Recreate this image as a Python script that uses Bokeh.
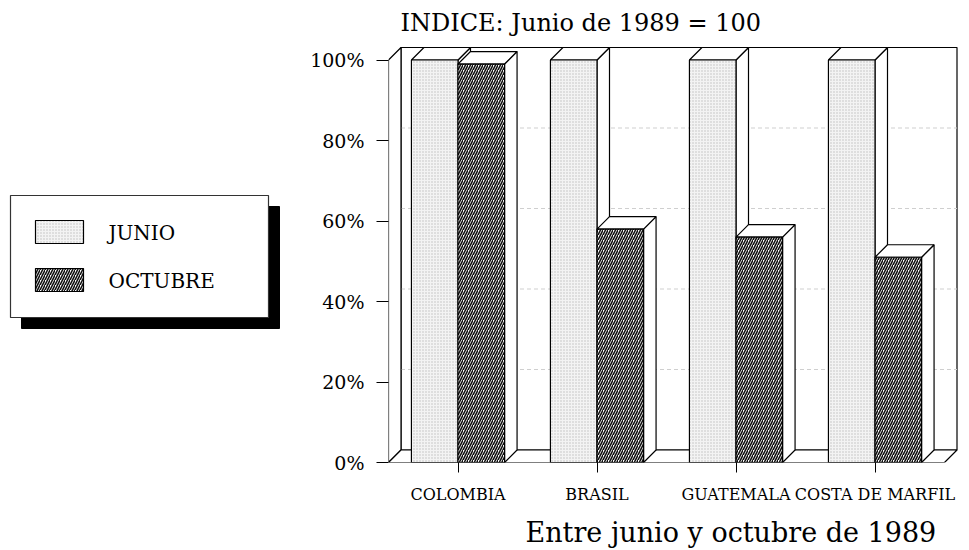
from bokeh.plotting import figure
from bokeh.models import Range1d, FixedTicker, AllLabels, Title
from bokeh.layouts import row
from bokeh.embed import file_html
from bokeh.resources import INLINE
from bokeh.core.properties import value

# ---------------- data ----------------
categories = ["COLOMBIA", "BRASIL", "GUATEMALA", "COSTA DE MARFIL"]
series_names = ["JUNIO", "OCTUBRE"]
junio = [100, 100, 100, 100]
octubre = [99, 58, 56, 51]
y_ticks = [0, 20, 40, 60, 80, 100]
y_tick_labels = ["0%", "20%", "40%", "60%", "80%", "100%"]
title_text = "INDICE: Junio de 1989 = 100"
subtitle_text = "Entre junio y octubre de 1989"

# ---------------- geometry / style ----------------
PX_PER_CAT = 139.0
PX_PER_PCT = 4.025
FRAME_W = 572
FRAME_H = 422
TOP_B = 40
BOT_B = 88
LEG_W = 298
DEPTH_PX = 12.5
BAR_W = 0.335
DX = DEPTH_PX / PX_PER_CAT
DY = DEPTH_PX / PX_PER_PCT
X0 = -0.5
X1 = len(categories) - 0.5
YMAX = 100
SERIF = "DejaVu Serif"

p = figure(frame_width=FRAME_W, frame_height=FRAME_H,
           x_range=Range1d(X0, X0 + FRAME_W / PX_PER_CAT),
           y_range=Range1d(0, FRAME_H / PX_PER_PCT),
           output_backend="svg", toolbar_location=None,
           min_border_left=90, min_border_right=9,
           min_border_top=TOP_B, min_border_bottom=BOT_B)
p.outline_line_color = None
p.grid.visible = False
p.background_fill_color = "white"
p.border_fill_color = "white"

p.title = Title(text=title_text, align="left", offset=12, standoff=7,
                text_font=SERIF, text_font_size="24px", text_font_style="normal",
                text_color="black")
p.add_layout(Title(text=subtitle_text, align="left", offset=137, standoff=17,
                   text_font=SERIF, text_font_size="27px", text_font_style="normal",
                   text_color="black"), "below")

# back wall
p.quad(left=[X0 + DX], right=[X1 + DX], bottom=[DY], top=[YMAX + DY],
       fill_color="white", line_color="black", line_width=1.2)
# grid lines on back wall
grid_vals = [t for t in y_ticks if 0 < t < YMAX]
p.multi_line(xs=[[X0 + DX, X1 + DX] for _ in grid_vals],
             ys=[[t + DY, t + DY] for t in grid_vals],
             line_color="#cfcfcf", line_width=1, line_dash="4 3")
# left wall
p.patch([X0, X0 + DX, X0 + DX, X0], [0, DY, YMAX + DY, YMAX],
        fill_color="white", line_color="black", line_width=1.2)
# floor
p.patch([X0, X1, X1 + DX, X0 + DX], [0, 0, DY, DY],
        fill_color="white", line_color="black", line_width=1.2)


def box_parts(vals, offset):
    lefts, rights, tops = [], [], []
    txs, tys, sxs, sys_ = [], [], [], []
    for i, v in enumerate(vals):
        l = i + offset
        r = l + BAR_W
        lefts.append(l); rights.append(r); tops.append(v)
        txs.append([l, r, r + DX, l + DX]); tys.append([v, v, v + DY, v + DY])
        sxs.append([r, r + DX, r + DX, r]); sys_.append([0, DY, v + DY, v])
    return lefts, rights, tops, txs, tys, sxs, sys_


styles = [
    dict(fill_color="#f3f3f3", hatch_pattern="dot", hatch_color="#a8a8a8",
         hatch_scale=3, hatch_weight=1, hatch_alpha=0.7),
    dict(fill_color="white", hatch_pattern="right_diagonal_line", hatch_color="#111111",
         hatch_scale=5, hatch_weight=1.6),
]

for vals, offset, st in [(junio, -BAR_W, styles[0]), (octubre, 0.0, styles[1])]:
    l, r, t, txs, tys, sxs, sys_ = box_parts(vals, offset)
    p.patches(sxs, sys_, fill_color="white", line_color="black", line_width=1.2)
    p.patches(txs, tys, fill_color="white", line_color="black", line_width=1.2)
    p.quad(left=l, right=r, bottom=[0] * len(vals), top=t,
           line_color="black", line_width=1.2, **st)

# axes
p.yaxis.ticker = FixedTicker(ticks=y_ticks)
p.yaxis.major_label_overrides = {t: s for t, s in zip(y_ticks, y_tick_labels)}
p.yaxis.axis_line_color = None
p.yaxis.major_tick_out = 12
p.yaxis.major_tick_in = 0
p.yaxis.minor_tick_line_color = None
p.yaxis.major_tick_line_color = "black"
p.yaxis.major_label_text_font = SERIF
p.yaxis.major_label_text_font_size = "19px"
p.yaxis.major_label_text_color = "black"
p.yaxis.major_label_standoff = 12

p.xaxis.ticker = FixedTicker(ticks=list(range(len(categories))))
p.xaxis.major_label_overrides = {i: c for i, c in enumerate(categories)}
p.xaxis.major_label_policy = AllLabels()
p.xaxis.axis_line_color = None
p.xaxis.major_tick_out = 10
p.xaxis.major_tick_in = 0
p.xaxis.minor_tick_line_color = None
p.xaxis.major_tick_line_color = "black"
p.xaxis.major_label_text_font = SERIF
p.xaxis.major_label_text_font_size = "16px"
p.xaxis.major_label_text_color = "black"
p.xaxis.major_label_standoff = 12

# ---------------- legend figure (page-pixel coordinates) ----------------
lg = figure(frame_width=LEG_W, frame_height=FRAME_H,
            x_range=Range1d(0, LEG_W), y_range=Range1d(TOP_B + FRAME_H, TOP_B),
            output_backend="svg", toolbar_location=None,
            min_border_left=0, min_border_right=0,
            min_border_top=TOP_B, min_border_bottom=BOT_B,
            x_axis_location=None, y_axis_location=None)
lg.outline_line_color = None
lg.grid.visible = False
lg.background_fill_color = "white"
lg.border_fill_color = "white"

BOX_L, BOX_R, BOX_T, BOX_B = 10, 268, 195, 317
SH = 11
lg.quad(left=[BOX_L + SH], right=[BOX_R + SH], top=[BOX_T + SH], bottom=[BOX_B + SH],
        fill_color="black", line_color="black")
lg.quad(left=[BOX_L], right=[BOX_R], top=[BOX_T], bottom=[BOX_B],
        fill_color="white", line_color="#333333", line_width=1.2)
sw_tops = [220, 268]
for name, st, tp in zip(series_names, styles, sw_tops):
    lg.quad(left=[35], right=[83], top=[tp], bottom=[tp + 23],
            line_color="black", line_width=1.2, **st)
    lg.text(x=[108], y=[tp + 12], text=[name], text_font=value(SERIF),
            text_font_size="20px", text_baseline="middle", text_align="left",
            text_color="black")

layout = row(lg, p)
open("out.html", "w").write(file_html(layout, INLINE))
